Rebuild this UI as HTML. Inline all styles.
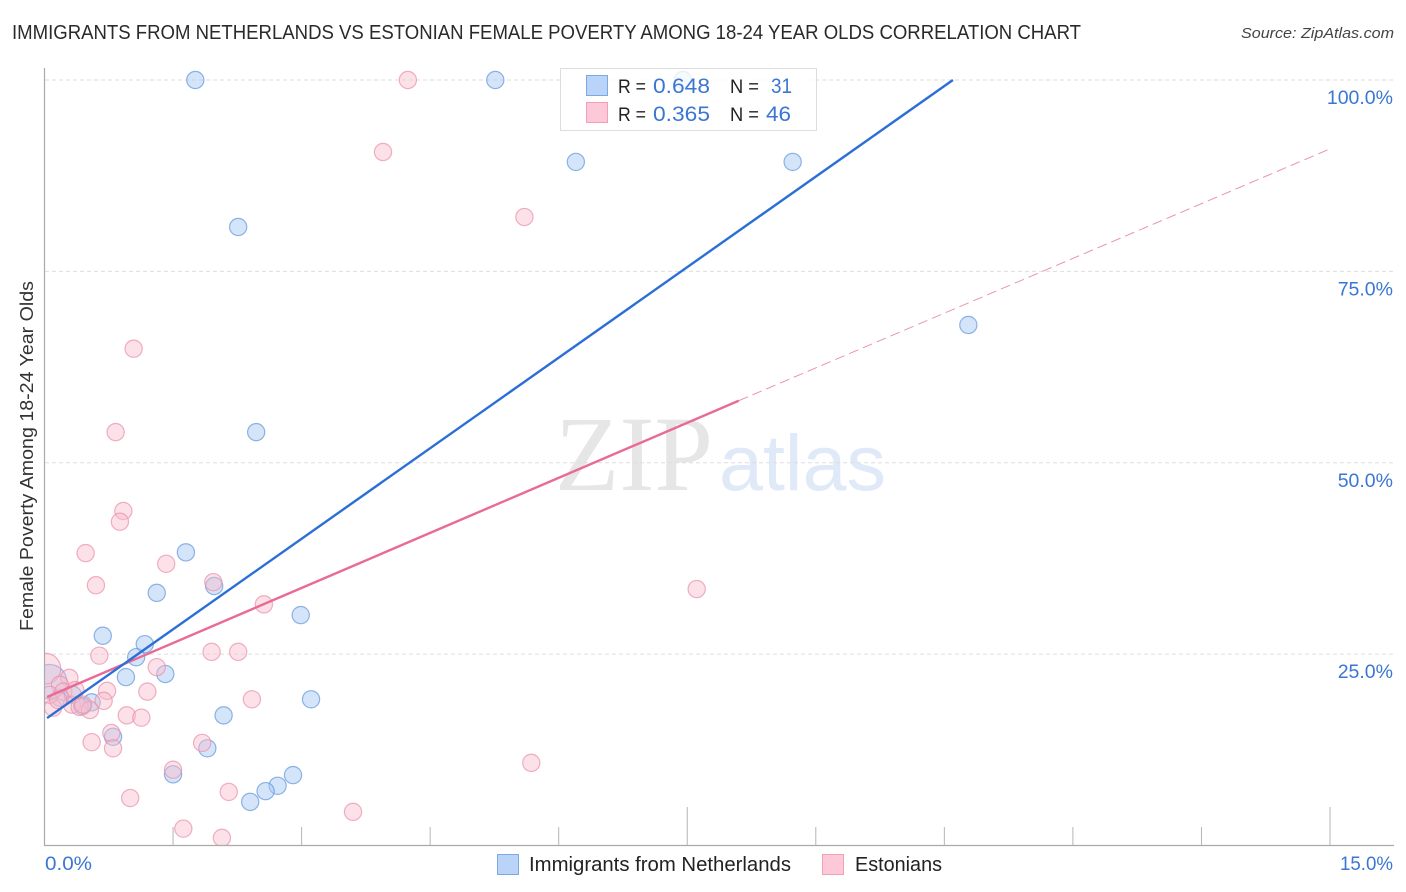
<!DOCTYPE html>
<html lang="en">
<head>
<meta charset="utf-8">
<title>Immigrants from Netherlands vs Estonian Female Poverty Correlation Chart</title>
<style>
html,body{margin:0;padding:0;background:#fff;width:1406px;height:892px;overflow:hidden}
svg{display:block}
text{font-family:"Liberation Sans",sans-serif}
</style>
</head>
<body>
<svg id="chart" xmlns="http://www.w3.org/2000/svg" width="1406" height="892" viewBox="0 0 1406 892">
  <defs>
    <clipPath id="plot-clip"><rect x="45" y="60" width="1349" height="785"></rect></clipPath>
  </defs>
  <text x="12" y="39" font-size="20" fill="#2a2a2a" textLength="1069" lengthAdjust="spacingAndGlyphs">IMMIGRANTS FROM NETHERLANDS VS ESTONIAN FEMALE POVERTY AMONG 18-24 YEAR OLDS CORRELATION CHART</text>
  <text x="1394" y="38" font-size="15" font-style="italic" fill="#444" text-anchor="end" textLength="153" lengthAdjust="spacingAndGlyphs">Source: ZipAtlas.com</text>
  <g>
    <text x="555" y="490" font-size="107" fill="#e6e6e6" style="font-family:'Liberation Serif',serif" textLength="158" lengthAdjust="spacingAndGlyphs">ZIP</text>
    <text x="719" y="490" font-size="79" fill="#e0e9f7" textLength="167" lengthAdjust="spacingAndGlyphs">atlas</text>
  </g>
  <g id="grid"></g>
  <g id="series-blue" clip-path="url(#plot-clip)"></g>
  <g id="series-pink" clip-path="url(#plot-clip)"></g>
  <rect x="28" y="640" width="16.5" height="80" fill="#fff"></rect>
  <g id="axes"></g>
  <g id="trends"></g>
  <text transform="translate(33 456) rotate(-90)" font-size="18.5" fill="#333" text-anchor="middle" textLength="350" lengthAdjust="spacingAndGlyphs">Female Poverty Among 18-24 Year Olds</text>
  <g>
    <rect x="560.5" y="68.5" width="256" height="62" fill="#fff" fill-opacity="0.78" stroke="#ddd"></rect>
    <rect x="586.5" y="75.5" width="21" height="20" fill="#b9d4f8" stroke="#7ea9e0"></rect>
    <rect x="586.5" y="102.5" width="21" height="20" fill="#fdc8d8" stroke="#f0a0b8"></rect>
    <text x="618" y="93" font-size="19" fill="#222" textLength="28" lengthAdjust="spacingAndGlyphs">R =</text>
    <text x="653" y="93" font-size="21" fill="#3a76d2" textLength="57" lengthAdjust="spacingAndGlyphs">0.648</text>
    <text x="730" y="93" font-size="19" fill="#222" textLength="29" lengthAdjust="spacingAndGlyphs">N =</text>
    <text x="771" y="93" font-size="21" fill="#3a76d2" textLength="21" lengthAdjust="spacingAndGlyphs">31</text>
    <text x="618" y="121" font-size="19" fill="#222" textLength="28" lengthAdjust="spacingAndGlyphs">R =</text>
    <text x="653" y="121" font-size="21" fill="#3a76d2" textLength="57" lengthAdjust="spacingAndGlyphs">0.365</text>
    <text x="730" y="121" font-size="19" fill="#222" textLength="29" lengthAdjust="spacingAndGlyphs">N =</text>
    <text x="766" y="121" font-size="21" fill="#3a76d2" textLength="25" lengthAdjust="spacingAndGlyphs">46</text>
  </g>
  <g>
    <rect x="497.5" y="854.5" width="21" height="20" fill="#b9d4f8" stroke="#7ea9e0"></rect>
    <text x="529" y="871" font-size="20" fill="#222" textLength="262" lengthAdjust="spacingAndGlyphs">Immigrants from Netherlands</text>
    <rect x="822.5" y="854.5" width="21" height="20" fill="#fdc8d8" stroke="#f0a0b8"></rect>
    <text x="855" y="871" font-size="20" fill="#222" textLength="87" lengthAdjust="spacingAndGlyphs">Estonians</text>
  </g>
</svg>
<script>
const xTickValues = [1.5, 3, 4.5, 6, 7.5, 9, 10.5, 12, 13.5, 15];
const xMajorTicks = [7.5, 15];
const xEdgeLabels = ["0.0%", "15.0%"];
const yTickValues = [25, 50, 75, 100];
const yTickLabels = ["25.0%", "50.0%", "75.0%", "100.0%"];

const netherlandsX = [1.76, 5.26, 7.45, 6.20, 8.73, 2.26, 10.78, 2.47, 1.65, 1.31, 1.98, 2.99, 0.68, 1.17, 1.07, 1.41, 0.95, 3.11, 2.09, 0.55, 0.80, 1.90, 1.50, 2.90, 2.72, 2.58, 2.40, 0.44, 0.18, 0.06, 0.33];
const netherlandsY = [100, 100, 100, 89.3, 89.3, 80.8, 68.0, 54.0, 38.3, 33.0, 33.9, 30.1, 27.4, 26.3, 24.6, 22.4, 22.0, 19.1, 17.0, 18.7, 14.2, 12.7, 9.3, 9.2, 7.8, 7.1, 5.7, 18.2, 19.3, 21.4, 19.7];
const netherlandsWeight = [1, 1, 1, 1, 1, 1, 1, 1, 1, 1, 1, 1, 1, 1, 1, 1, 1, 1, 1, 1, 1, 1, 1, 1, 1, 1, 1, 1, 1, 4.0, 1];

const estoniansX = [4.24, 3.95, 5.60, 1.04, 0.83, 0.92, 0.88, 0.48, 1.42, 0.60, 1.97, 2.56, 1.95, 2.26, 0.64, 1.31, 0.29, 0.73, 1.20, 2.42, 0.69, 0.96, 1.13, 0.78, 0.55, 0.80, 1.84, 1.50, 2.15, 1.00, 1.62, 2.07, 3.60, 5.68, 7.61, 0.01, 0.18, 0.10, 0.06, 0.22, 0.32, 0.41, 0.53, 0.16, 0.45, 0.36];
const estoniansY = [100, 90.6, 82.1, 64.9, 54.0, 43.7, 42.3, 38.2, 36.8, 34.0, 34.4, 31.5, 25.3, 25.3, 24.8, 23.3, 21.9, 20.2, 20.1, 19.1, 18.9, 17.0, 16.7, 14.7, 13.5, 12.7, 13.4, 9.9, 7.0, 6.2, 2.2, 1.0, 4.4, 10.8, 33.5, 23.1, 21.0, 18.0, 19.7, 20.1, 18.4, 18.1, 17.7, 19.0, 18.4, 20.3];
const estoniansWeight = [1, 1, 1, 1, 1, 1, 1, 1, 1, 1, 1, 1, 1, 1, 1, 1, 1, 1, 1, 1, 1, 1, 1, 1, 1, 1, 1, 1, 1, 1, 1, 1, 1, 1, 1, 3.2, 1, 1, 1, 1, 1, 1, 1, 1, 1, 1];

const netherlandsTrendX = [0.03, 10.6];
const netherlandsTrendY = [16.65, 100];
const estoniansTrendX = [0.03, 8.1];
const estoniansTrendY = [19.4, 58.1];
const estoniansProjectionX = [8.1, 15];
const estoniansProjectionY = [58.1, 91];

const NS = 'http://www.w3.org/2000/svg';
function xScale(v) { return 44.5 + v * 85.7; }
function yScale(v) { return 845.5 - v * 7.655; }
function rScale(w) { return 8.6 * Math.sqrt(w); }
function make(tag, parent, attrs) {
  const el = document.createElementNS(NS, tag);
  Object.keys(attrs).forEach(function (k) { el.setAttribute(k, attrs[k]); });
  parent.appendChild(el);
  return el;
}

const gridGroup = document.getElementById('grid');
const axesGroup = document.getElementById('axes');
const blueGroup = document.getElementById('series-blue');
const pinkGroup = document.getElementById('series-pink');
const trendGroup = document.getElementById('trends');

yTickValues.forEach(function (v, i) {
  const y = yScale(v);
  const line = make('line', gridGroup, { x1: 45, x2: 1394, y1: y, y2: y, stroke: '#dedede', 'stroke-width': 1, 'stroke-dasharray': '4 3' });
  
  
  const label = make('text', axesGroup, { x: 1393, y: y + 24, 'font-size': 19.5, fill: '#3a76d2', 'text-anchor': 'end' });
  
  
  label.textContent = yTickLabels[i];
});

const yAxisLine = make('line', axesGroup, { x1: 44.5, x2: 44.5, y1: 68, y2: 846, stroke: '#aaa', 'stroke-width': 1.2 });


const xAxisLine = make('line', axesGroup, { x1: 44, x2: 1394, y1: 845.5, y2: 845.5, stroke: '#aaa', 'stroke-width': 1.2 });



xTickValues.forEach(function (v) {
  const x = xScale(v);
  const top = xMajorTicks.indexOf(v) >= 0 ? 807 : 827;
  const tick = make('line', axesGroup, { x1: x, x2: x, y1: top, y2: 845, stroke: '#b5b5b5', 'stroke-width': 1 });
  
  
});

const xLabelLeft = make('text', axesGroup, { x: 45, y: 870, 'font-size': 19.5, fill: '#3a76d2', textLength: 47, lengthAdjust: 'spacingAndGlyphs' });


xLabelLeft.textContent = xEdgeLabels[0];
const xLabelRight = make('text', axesGroup, { x: 1393, y: 870, 'font-size': 19.5, fill: '#3a76d2', 'text-anchor': 'end', textLength: 53, lengthAdjust: 'spacingAndGlyphs' });


xLabelRight.textContent = xEdgeLabels[1];

netherlandsX.forEach(function (v, i) {
  const dot = make('circle', blueGroup, { cx: xScale(v), cy: yScale(netherlandsY[i]), r: rScale(netherlandsWeight[i]), fill: '#a8c8f2', 'fill-opacity': 0.48, stroke: '#5f96dc', 'stroke-opacity': 0.7, 'stroke-width': 1.2 });
  
  
});

estoniansX.forEach(function (v, i) {
  const dot = make('circle', pinkGroup, { cx: xScale(v), cy: yScale(estoniansY[i]), r: rScale(estoniansWeight[i]), fill: '#f9bccd', 'fill-opacity': 0.45, stroke: '#ea8fab', 'stroke-opacity': 0.7, 'stroke-width': 1.2 });
  
  
});

const projection = make('line', trendGroup, { x1: xScale(estoniansProjectionX[0]), y1: yScale(estoniansProjectionY[0]), x2: xScale(estoniansProjectionX[1]), y2: yScale(estoniansProjectionY[1]), stroke: '#e994ae', 'stroke-width': 1, 'stroke-dasharray': '10 5' });


const pinkTrend = make('line', trendGroup, { x1: xScale(estoniansTrendX[0]), y1: yScale(estoniansTrendY[0]), x2: xScale(estoniansTrendX[1]), y2: yScale(estoniansTrendY[1]), stroke: '#e96a96', 'stroke-width': 2.4 });


const blueTrend = make('line', trendGroup, { x1: xScale(netherlandsTrendX[0]), y1: yScale(netherlandsTrendY[0]), x2: xScale(netherlandsTrendX[1]), y2: yScale(netherlandsTrendY[1]), stroke: '#2b6fd6', 'stroke-width': 2.4 });


</script>
</body>
</html>
